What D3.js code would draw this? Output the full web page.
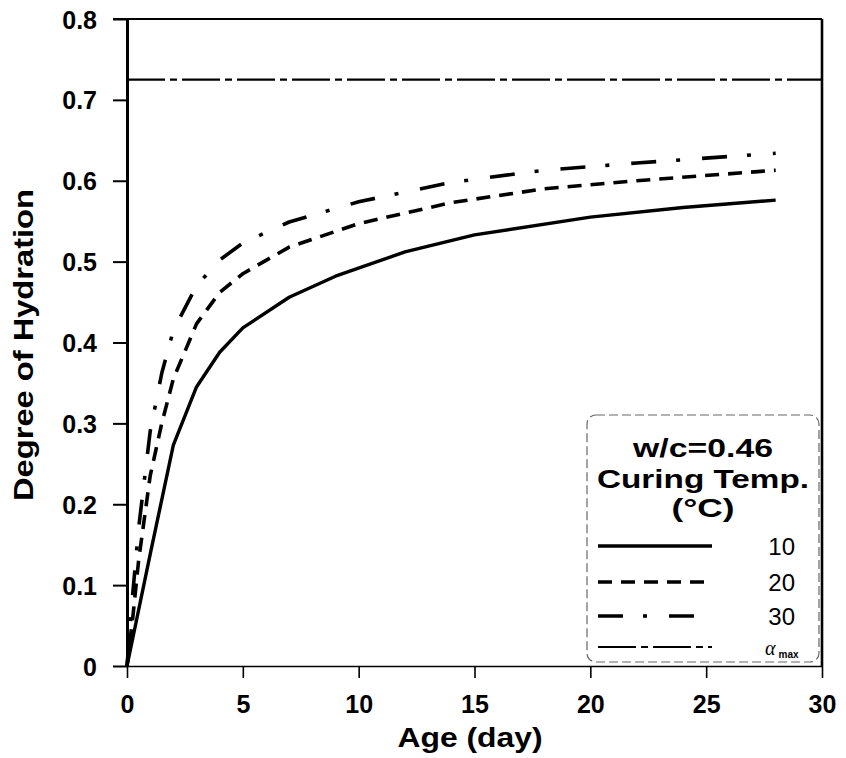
<!DOCTYPE html>
<html>
<head>
<meta charset="utf-8">
<script src="https://cdn.jsdelivr.net/npm/d3@7"></script>
<style>
  html, body { margin: 0; padding: 0; background: #fff; }
  svg { display: block; }
  text { font-family: "Liberation Sans", Arial, Helvetica, sans-serif; fill: #000; }
</style>
</head>
<body>
<svg id="chart" width="846" height="758"></svg>
<script>
// ---- Data ----
const days10 = [0, 1, 2, 3, 4, 5, 7, 9, 12, 15, 20, 24, 28];
const hyd10  = [0, 0.138, 0.273, 0.345, 0.388, 0.418, 0.456, 0.482, 0.512, 0.533, 0.555, 0.567, 0.576];

const days20 = [0, 0.25, 0.5, 1, 1.5, 2, 3, 4, 5, 7, 10, 14, 18, 22, 28];
const hyd20  = [0, 0.06, 0.13, 0.235, 0.30, 0.355, 0.423, 0.462, 0.485, 0.518, 0.547, 0.573, 0.590, 0.600, 0.613];

const days30 = [0, 0.25, 0.5, 1, 1.5, 2, 3, 4, 5, 7, 10, 14, 18, 22, 28];
const hyd30  = [0, 0.09, 0.17, 0.29, 0.362, 0.415, 0.47, 0.502, 0.523, 0.549, 0.574, 0.598, 0.613, 0.622, 0.634];

const alphaMax = 0.725;

const xTicks = [0, 5, 10, 15, 20, 25, 30];
const yTicks = [0, 0.1, 0.2, 0.3, 0.4, 0.5, 0.6, 0.7, 0.8];
const yTickLabels = ["0", "0.1", "0.2", "0.3", "0.4", "0.5", "0.6", "0.7", "0.8"];

const legendTitle = ["w/c=0.46", "Curing Temp.", "(\u00B0C)"];
const legendLabels = ["10", "20", "30"];

// ---- Layout ----
const svg = d3.select("#chart");
const x = d3.scaleLinear().domain([0, 30]).range([127, 822]);
const y = d3.scaleLinear().domain([0, 0.8]).range([666, 19]);

const styles = {
  s10: { dash: null, width: 3.4 },
  s20: { dash: "14,9", width: 3.6 },
  s30: { dash: "25,20,4,22", width: 3.6 },
  amax: { dash: "38,5,7,5", width: 2.2 }
};

// Axes
const yAxis = d3.axisLeft(y).tickValues(yTicks)
  .tickFormat((d, i) => yTickLabels[i]).tickSize(14).tickSizeOuter(0).tickPadding(16);
const gy = svg.append("g").attr("transform", `translate(${x(0)},0)`).call(yAxis);
gy.select(".domain").attr("stroke", "#000").attr("stroke-width", 3);
gy.selectAll(".tick line").attr("stroke", "#000").attr("stroke-width", 2);
gy.selectAll(".tick text").attr("font-size", 25).attr("font-weight", "bold")
  .attr("font-family", "Liberation Sans, Arial, sans-serif").attr("dy", "0.36em");

const xAxis = d3.axisBottom(x).tickValues(xTicks).tickSize(12).tickSizeOuter(0).tickPadding(17);
const gx = svg.append("g").attr("transform", `translate(0,${y(0)})`).call(xAxis);
gx.select(".domain").attr("stroke", "#000").attr("stroke-width", 1.6);
gx.selectAll(".tick line").attr("stroke", "#000").attr("stroke-width", 1.6);
gx.selectAll(".tick text").attr("font-size", 25).attr("font-weight", "bold")
  .attr("font-family", "Liberation Sans, Arial, sans-serif");

// Frame top and right
svg.append("line").attr("x1", x(0) - 14).attr("x2", x(30)).attr("y1", y(0.8)).attr("y2", y(0.8))
  .attr("stroke", "#000").attr("stroke-width", 2.2);
svg.append("line").attr("x1", x(30)).attr("x2", x(30)).attr("y1", y(0.8)).attr("y2", y(0))
  .attr("stroke", "#000").attr("stroke-width", 2.6);

// Axis titles
svg.append("text").attr("transform", "translate(33,345) rotate(-90)")
  .attr("text-anchor", "middle").attr("font-size", 27).attr("font-weight", "bold")
  .attr("textLength", 312).attr("lengthAdjust", "spacingAndGlyphs")
  .text("Degree of Hydration");
svg.append("text").attr("x", 470).attr("y", 747)
  .attr("text-anchor", "middle").attr("font-size", 28).attr("font-weight", "bold")
  .attr("textLength", 145).attr("lengthAdjust", "spacingAndGlyphs")
  .text("Age (day)");

// Alpha max line
svg.append("line").attr("x1", x(0)).attr("x2", x(30)).attr("y1", y(alphaMax)).attr("y2", y(alphaMax))
  .attr("stroke", "#000").attr("stroke-width", styles.amax.width)
  .attr("stroke-dasharray", styles.amax.dash);

// Curves
const line = d3.line().x(d => x(d[0])).y(d => y(d[1]));
function drawCurve(days, vals, st) {
  const pts = days.map((d, i) => [d, vals[i]]);
  svg.append("path").datum(pts).attr("d", line)
    .attr("fill", "none").attr("stroke", "#000")
    .attr("stroke-width", st.width)
    .attr("stroke-linejoin", "round")
    .attr("stroke-dasharray", st.dash);
}
drawCurve(days10, hyd10, styles.s10);
drawCurve(days20, hyd20, styles.s20);
drawCurve(days30, hyd30, styles.s30);

// Legend
const lg = svg.append("g");
lg.append("rect").attr("x", 587).attr("y", 415).attr("width", 232).attr("height", 247)
  .attr("rx", 9).attr("fill", "#fff").attr("stroke", "#666").attr("stroke-width", 1.2)
  .attr("stroke-dasharray", "9,4");
const titleY = [457, 488, 517];
const titleLen = [140, 212, 63];
legendTitle.forEach((t, i) => {
  lg.append("text").attr("x", 703).attr("y", titleY[i]).attr("text-anchor", "middle")
    .attr("font-size", 25).attr("font-weight", "bold")
    .attr("textLength", titleLen[i]).attr("lengthAdjust", "spacingAndGlyphs").text(t);
});
const rowY = [546, 582, 616, 647];
const rowStyles = [styles.s10, styles.s20, styles.s30, styles.amax];
rowStyles.forEach((st, i) => {
  lg.append("line").attr("x1", 598).attr("x2", 712).attr("y1", rowY[i]).attr("y2", rowY[i])
    .attr("stroke", "#000").attr("stroke-width", st.width).attr("stroke-dasharray", st.dash);
});
legendLabels.forEach((t, i) => {
  lg.append("text").attr("x", 795).attr("y", rowY[i] + 9).attr("text-anchor", "end")
    .attr("font-size", 24).text(t);
});
const am = lg.append("text").attr("x", 765).attr("y", 655);
am.append("tspan").attr("font-size", 20).attr("font-style", "italic")
  .attr("font-family", "Liberation Serif, Times New Roman, serif").text("\u03B1");
am.append("tspan").attr("font-size", 10).attr("font-weight", "bold").attr("dx", 3).attr("dy", 3).text("max");
</script>
</body>
</html>
